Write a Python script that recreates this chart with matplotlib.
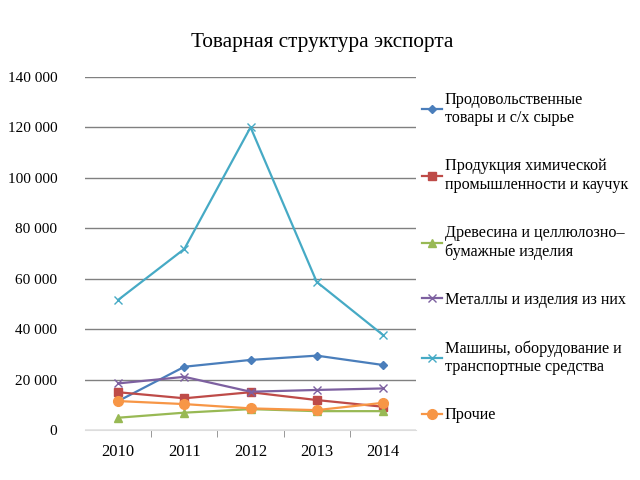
import numpy as np
import matplotlib
matplotlib.use('Agg')
import matplotlib.pyplot as plt
from matplotlib.ticker import FuncFormatter, FixedLocator

plt.rcParams['font.family'] = ['Liberation Serif', 'DejaVu Serif']

years = ['2010', '2011', '2012', '2013', '2014']
food = [11500, 25100, 27800, 29500, 25800]
chem = [15000, 12600, 15000, 11900, 9250]
wood = [4900, 6900, 8300, 7500, 7500]
metals = [18500, 21100, 15200, 15900, 16500]
machines = [51600, 71800, 120000, 58700, 37700]
other = [11500, 10300, 8600, 7900, 10800]

labels = ['Продовольственные\nтовары и с/х сырье',
          'Продукция химической\nпромышленности и каучук',
          'Древесина и целлюлозно–\nбумажные изделия',
          'Металлы и изделия из них',
          'Машины, оборудование и\nтранспортные средства',
          'Прочие']

fig = plt.figure(figsize=(6.4, 4.8), dpi=100)
ax = fig.add_axes([0.133, 0.104, 0.517, 0.736])

x = np.arange(len(years))
series = [food, chem, wood, metals, machines, other]
colors = ['#4a7ebb', '#be4b48', '#98b954', '#7d60a0', '#46aac5', '#f79646']
markers = ['D', 's', '^', 'x', 'x', 'o']
sizes = [4.5, 6, 6, 6, 6, 7]
for vals, c, m, s, lab in zip(series, colors, markers, sizes, labels):
    ax.plot(x, vals, color=c, marker=m, markersize=s, linewidth=1.6, label=lab,
            markeredgewidth=1.0)

ax.set_xlim(-0.5, len(years) - 0.5)
ax.set_ylim(0, 140000)
ax.set_yticks(np.arange(0, 140001, 20000))
ax.yaxis.set_major_formatter(FuncFormatter(lambda v, p: f'{int(v):,}'.replace(',', ' ')))
ax.set_xticks(x)
ax.set_xticklabels(years)
ax.xaxis.set_minor_locator(FixedLocator(np.arange(0.5, len(years) - 0.5, 1)))
ax.tick_params(axis='x', which='major', length=0, pad=10, labelsize=12)
ax.tick_params(axis='x', which='minor', length=5, color='#888888', direction='out')
ax.tick_params(axis='y', length=0, pad=20, labelsize=11)

ax.grid(axis='y', color='#808080', linewidth=1)
ax.set_axisbelow(True)
for sp in ['top', 'right', 'left']:
    ax.spines[sp].set_visible(False)
ax.spines['bottom'].set_color('#dddddd')

fig.text(0.503, 0.912, 'Товарная структура экспорта', fontsize=15.3,
         ha='center', va='center')

ax.legend(loc='upper left', bbox_to_anchor=(0.985, 0.99), frameon=False,
          fontsize=11.6, labelspacing=2.0, handlelength=1.25, handletextpad=0.15,
          borderaxespad=0.3)

fig.savefig('out.png', dpi=100)
